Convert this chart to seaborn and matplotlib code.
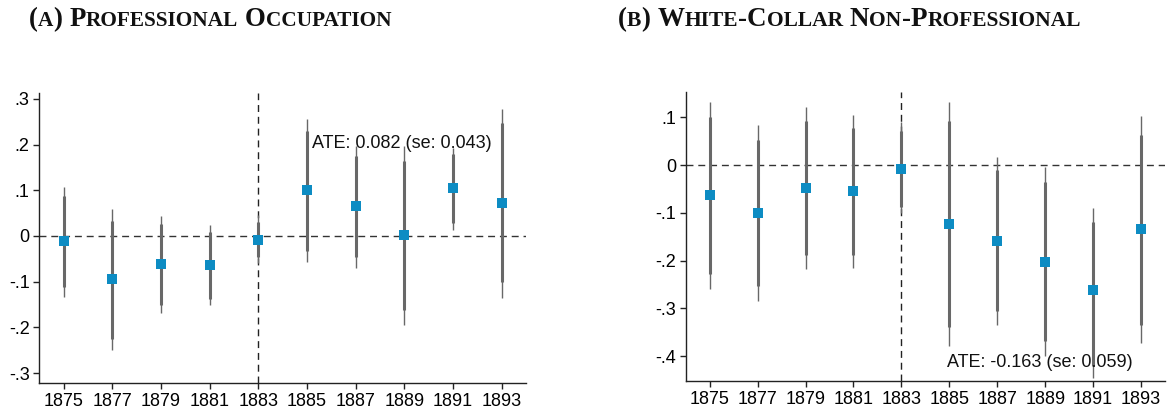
import numpy as np
import pandas as pd
import matplotlib
matplotlib.use("Agg")
import matplotlib.pyplot as plt
import seaborn as sns

years = [1875, 1877, 1879, 1881, 1883, 1885, 1887, 1889, 1891, 1893]

# panel A: professional occupation
est_a = [-0.012, -0.095, -0.062, -0.064, -0.008, 0.100, 0.065, 0.002, 0.104, 0.072]
lo90_a = [-0.112, -0.225, -0.151, -0.137, -0.045, -0.033, -0.047, -0.162, 0.029, -0.101]
hi90_a = [0.088, 0.033, 0.026, 0.009, 0.030, 0.230, 0.175, 0.165, 0.180, 0.247]
lo95_a = [-0.133, -0.250, -0.168, -0.151, -0.060, -0.058, -0.069, -0.194, 0.013, -0.135]
hi95_a = [0.107, 0.058, 0.043, 0.024, 0.045, 0.255, 0.196, 0.196, 0.192, 0.278]

# panel B: white-collar non-professional
est_b = [-0.063, -0.100, -0.048, -0.054, -0.008, -0.123, -0.159, -0.203, -0.261, -0.134]
lo90_b = [-0.227, -0.254, -0.189, -0.189, -0.088, -0.339, -0.306, -0.369, -0.420, -0.334]
hi90_b = [0.100, 0.053, 0.093, 0.079, 0.072, 0.093, -0.011, -0.036, -0.118, 0.063]
lo95_b = [-0.259, -0.285, -0.217, -0.215, -0.100, -0.379, -0.335, -0.399, -0.445, -0.372]
hi95_b = [0.133, 0.084, 0.121, 0.106, 0.091, 0.133, 0.017, -0.004, -0.090, 0.103]

title_a = "(a) Professional Occupation"
title_b = "(b) White-Collar Non-Professional"
ate_a = "ATE: 0.082 (se: 0.043)"
ate_b = "ATE: -0.163 (se: 0.059)"

yticks_a = [-0.3, -0.2, -0.1, 0, 0.1, 0.2, 0.3]
yticks_b = [-0.4, -0.3, -0.2, -0.1, 0, 0.1]

BLUE = "#0d8cc3"
GREY = "#686868"

sns.set_style("ticks")
plt.rcParams["font.family"] = ["Liberation Sans", "DejaVu Sans"]


def fmt(v):
    if abs(v) < 1e-9:
        return "0"
    s = f"{v:.1f}"
    return s.replace("0.", ".")


def draw_panel(ax, est, lo90, hi90, lo95, hi95, yticks, ylim, ate, ate_xy):
    df = pd.DataFrame({"year": years, "est": est})
    ax.axhline(0, color="#333333", lw=1, ls=(0, (5, 3.5)), zorder=1)
    ax.axvline(1883, color="#222222", lw=1, ls=(0, (5, 3.5)), zorder=1)
    ax.vlines(years, lo95, hi95, color=GREY, lw=1.0, zorder=2)
    ax.vlines(years, lo90, hi90, color=GREY, lw=2.2, zorder=2)
    sns.scatterplot(data=df, x="year", y="est", ax=ax, marker="s", s=42,
                    color=BLUE, linewidth=0, zorder=3)
    ax.set_xlim(1874, 1894)
    ax.set_ylim(*ylim)
    ax.set_xticks(years)
    ax.set_xticklabels([str(y) for y in years])
    ax.set_yticks(yticks)
    ax.set_yticklabels([fmt(v) for v in yticks])
    ax.set_xlabel("")
    ax.set_ylabel("")
    ax.tick_params(labelsize=13, length=4, width=1, colors="#222222",
                   labelcolor="black", pad=3)
    for side in ("top", "right"):
        ax.spines[side].set_visible(False)
    for side in ("left", "bottom"):
        ax.spines[side].set_color("#222222")
        ax.spines[side].set_linewidth(1)
    ax.text(ate_xy[0], ate_xy[1], ate, ha="left", va="center", fontsize=13,
            color="#111111", zorder=4)


def smallcaps(fig, x_px, y_px, text, big, small, target_w=None):
    # fake small caps: uppercase/punctuation big, lowercase as small capitals
    runs = []
    for ch in text:
        kind = "s" if ch.islower() else ("sp" if ch == " " else "b")
        if runs and runs[-1][0] == kind:
            runs[-1][1] += ch
        else:
            runs.append([kind, ch])

    def place(scale, draw):
        r = fig.canvas.get_renderer()
        x = x_px
        made = []
        for kind, s in runs:
            if kind == "sp":
                x += 0.27 * big * scale * fig.dpi / 72 * len(s)
                continue
            size = (big if kind == "b" else small) * scale
            t = fig.text(x / fig.bbox.width, 1 - y_px / fig.bbox.height, s.upper(),
                         fontsize=size, fontweight="bold",
                         family=["Liberation Serif", "DejaVu Serif"],
                         ha="left", va="baseline", color="#111111")
            x += t.get_window_extent(r).width
            made.append(t)
        if not draw:
            for t in made:
                t.remove()
        return x - x_px

    scale = 1.0
    if target_w:
        w = place(1.0, False)
        scale = target_w / w
    place(scale, True)


fig = plt.figure(figsize=(11.73, 4.12), dpi=100)
ax_a = fig.add_axes([0.0335, 0.0704, 0.4149, 0.7046])
ax_b = fig.add_axes([0.5846, 0.0752, 0.4086, 0.7022])

draw_panel(ax_a, est_a, lo90_a, hi90_a, lo95_a, hi95_a, yticks_a,
           (-0.3217, 0.3136), ate_a, (1885.2, 0.203))
draw_panel(ax_b, est_b, lo90_b, hi90_b, lo95_b, hi95_b, yticks_b,
           (-0.452, 0.154), ate_b, (1884.9, -0.413))

smallcaps(fig, 29, 26, title_a, 17, 13.5, target_w=363)
smallcaps(fig, 618, 26, title_b, 17, 13.5, target_w=462)

fig.savefig("out.png", dpi=100)
